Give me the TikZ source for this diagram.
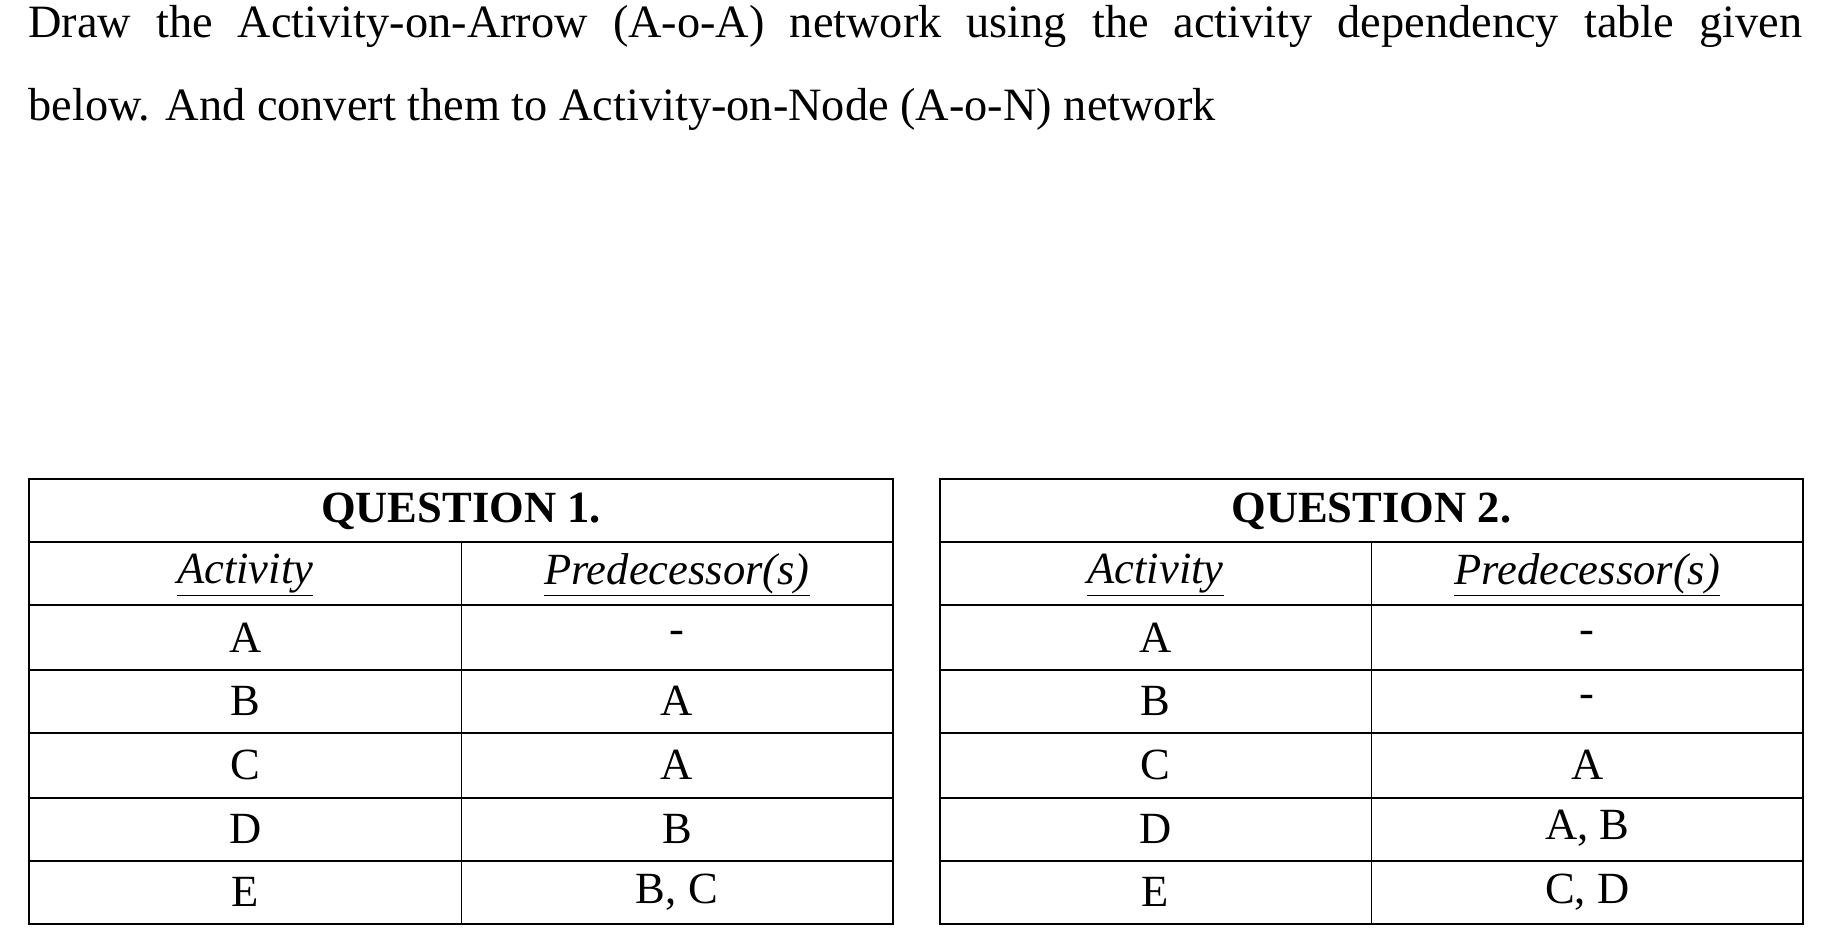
\documentclass[tikz,border=0pt]{standalone}
\usepackage{fontspec}
\setmainfont{Liberation Serif}
\begin{document}
\begin{tikzpicture}[x=1pt,y=-1pt,
  cell/.style={font=\fontsize{38}{40}\selectfont, anchor=center},
  grid/.style={line width=1.6pt}]
\useasboundingbox (0,0) rectangle (1560,800);
\node[anchor=north west, inner sep=0pt, text width=1512pt, align=justify,
  font=\fontsize{39.5}{71}\selectfont] (title) at (24,4)
  {Draw the Activity-on-Arrow (A-o-A) network using the activity dependency table given\linebreak below. And convert them to Activity-on-Node (A-o-N) network};
\foreach \X/\M/\R/\Q/\pa/\pb/\pc/\pd/\pe in {25/393/761/1/-/A/A/B/{B, C}, 801/1169/1537/2/-/-/A/{A, B}/{C, D}}{
  \draw[grid] (\X,408) rectangle (\R,788);
  \foreach \yy in {462,516,571,625,680,734} \draw[grid] (\X,\yy) -- (\R,\yy);
  \draw[line width=0.8pt] (\M,462) -- (\M,788);
  \node[cell,font=\fontsize{38}{40}\selectfont\bfseries] (q\Q) at ({(\X+\R)/2},436) {QUESTION \Q.};
  \node[cell,font=\fontsize{38}{40}\selectfont\itshape] (ha\Q) at ({(\X+\M)/2},490) {\underline{Activity}};
  \node[cell,font=\fontsize{38}{40}\selectfont\itshape] (hp\Q) at ({(\M+\R)/2},490) {\underline{Predecessor(s)}};
  \foreach \L/\P/\k in {A/\pa/0,B/\pb/1,C/\pc/2,D/\pd/3,E/\pe/4}{
    \node[cell] (a\Q\L) at ({(\X+\M)/2},{543.5+54.3*\k}) {\L};
    \node[cell] (p\Q\L) at ({(\M+\R)/2},{543.5+54.3*\k}) {\P};
  }
}
\end{tikzpicture}
\end{document}
